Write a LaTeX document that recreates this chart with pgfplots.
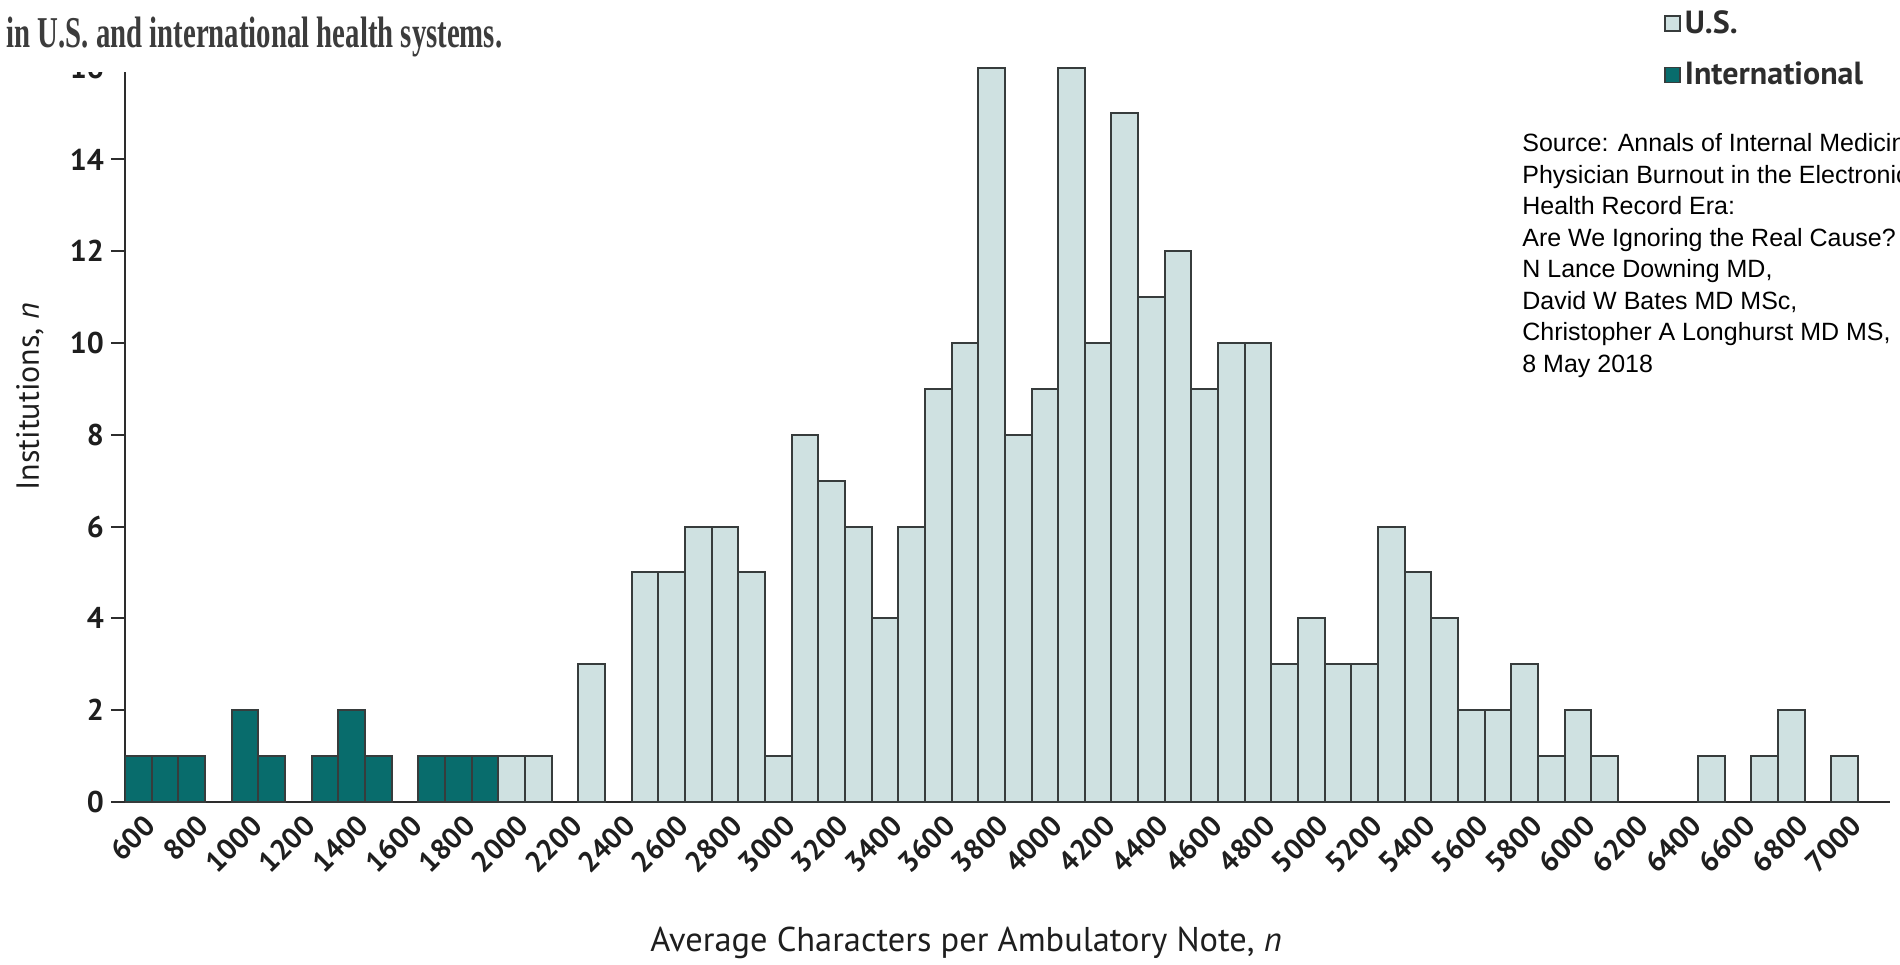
\documentclass[border=0pt]{standalone}
\usepackage{fontspec}
\setmainfont{PT Sans}
\newfontfamily\titlefont{Liberation Serif}
\newfontfamily\srcfont{Liberation Sans}
\usepackage{graphicx}
\usepackage{pgfplots}
\pgfplotsset{compat=1.18}

\definecolor{usfill}{RGB}{207,225,225}
\definecolor{intfill}{RGB}{8,108,108}
\definecolor{edge}{RGB}{55,60,60}
\definecolor{axisgray}{RGB}{45,45,45}
\definecolor{txt}{RGB}{30,30,30}
\definecolor{titlegray}{RGB}{60,60,60}

\pgfplotsset{sqlegend/.style={legend image code/.code={%
    \draw[##1, line width=0.7pt] (0pt,-3.75pt) rectangle (7.5pt,3.75pt);}}}

\begin{document}
\begin{tikzpicture}
\path[use as bounding box] (0,0) rectangle (950pt,482pt);
\begin{axis}[
    at={(62.5pt,81pt)}, anchor=south west,
    scale only axis, width=882.5pt, height=371.8pt,
    xmin=550, xmax=7170, ymin=0, ymax=16.2,
    axis lines*=left,
    axis line style={line width=1.3pt, color=axisgray},
    xtick={600,800,...,7000},
    ytick={0,2,...,16},
    tick align=outside, major tick length=7pt,
    x tick style={draw=none},
    y tick style={line width=1pt, color=axisgray},
    scaled x ticks=false,
    /pgf/number format/assume math mode=true,
    /pgf/number format/1000 sep={},
    xticklabel style={rotate=45, anchor=north east, font=\bfseries\fontsize{14.5}{16}\selectfont, text=txt, xshift=6pt, yshift=3pt},
    yticklabel style={font=\bfseries\fontsize{15}{17}\selectfont, text=txt},
    xlabel={Average Characters per Ambulatory Note, \textit{n}},
    ylabel={Institutions, \textit{n}},
    xlabel style={at={(0.4765,-0.19)}, anchor=center, font=\fontsize{17.2}{20}\selectfont, text=txt},
    ylabel style={at={(-0.0538,0.545)}, anchor=center, font=\fontsize{16}{19}\selectfont, text=txt},
    legend style={at={(0.872,1.0705)}, anchor=north west, draw=none, fill=none,
        font=\bfseries\fontsize{16}{19}\selectfont, text=axisgray, row sep=9pt, inner sep=0pt},
    legend cell align=left,
]
\addplot[ybar, bar width=100, bar shift=0pt, fill=usfill, draw=edge, line width=1pt, sqlegend]
    coordinates {(2000,1) (2100,1) (2300,3) (2500,5) (2600,5) (2700,6) (2800,6) (2900,5)
    (3000,1) (3100,8) (3200,7) (3300,6) (3400,4) (3500,6) (3600,9) (3700,10) (3800,16)
    (3900,8) (4000,9) (4100,16) (4200,10) (4300,15) (4400,11) (4500,12) (4600,9)
    (4700,10) (4800,10) (4900,3) (5000,4) (5100,3) (5200,3) (5300,6) (5400,5) (5500,4)
    (5600,2) (5700,2) (5800,3) (5900,1) (6000,2) (6100,1) (6500,1) (6700,1) (6800,2) (7000,1)};
\addlegendentry{U.S.}
\addplot[ybar, bar width=100, bar shift=0pt, fill=intfill, draw=edge, line width=1pt, sqlegend]
    coordinates {(600,1) (700,1) (800,1) (1000,2) (1100,1) (1300,1) (1400,2) (1500,1)
    (1700,1) (1800,1) (1900,1)};
\addlegendentry{International}
\end{axis}
% title strip covers the top of the axis
\fill[white] (0,446pt) rectangle (450pt,482pt);
\node[anchor=base west, inner sep=0pt, text=titlegray,
    font=\titlefont\bfseries\fontsize{22}{24}\selectfont] at (3pt,458pt)
    {\resizebox{248pt}{\height}{in U.S. and international health systems.}};
\foreach \txtline [count=\i from 0] in {{Source:  Annals of Internal Medicine},
    {Physician Burnout in the Electronic}, {Health Record Era:},
    {Are We Ignoring the Real Cause?}, {N Lance Downing MD,},
    {David W Bates MD MSc,}, {Christopher A Longhurst MD MS,}, {8 May 2018}}
  \node[anchor=base west, inner sep=0pt, text=black,
      font=\srcfont\fontsize{12.5}{15}\selectfont] at (761pt,{406pt-15.75pt*\i}) {\txtline};
\end{tikzpicture}
\end{document}
